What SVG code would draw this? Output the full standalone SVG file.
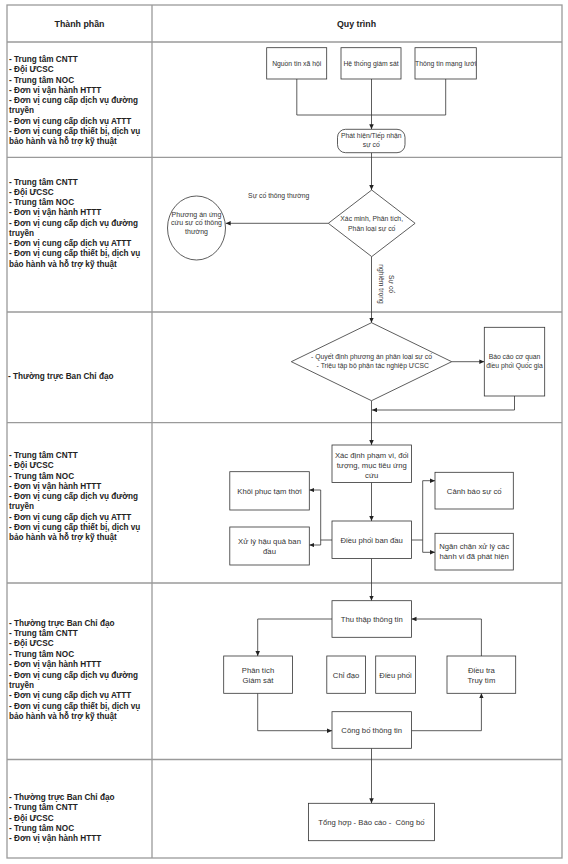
<svg xmlns="http://www.w3.org/2000/svg" width="568" height="864" viewBox="0 0 568 864">
<style>
.grid{fill:none;stroke:#9a9a9a;stroke-width:1.3}
.hd{font-family:"Liberation Sans",Arial,sans-serif;font-weight:bold;font-size:8.8px;fill:#222;text-anchor:middle}
.lt{font-family:"Liberation Sans",Arial,sans-serif;font-weight:bold;font-size:8.2px;fill:#222}
.bx{fill:#fff;stroke:#333;stroke-width:0.8}
.s{font-family:"Liberation Sans",Arial,sans-serif;font-size:6.8px;fill:#333;text-anchor:middle}
.m{font-family:"Liberation Sans",Arial,sans-serif;font-size:7.7px;fill:#333;text-anchor:middle}
.c{fill:none;stroke:#333;stroke-width:0.8}
.a{marker-end:url(#ah)}
</style>
<defs>
<marker id="ah" markerUnits="userSpaceOnUse" markerWidth="5" markerHeight="5" refX="5" refY="2.25" orient="auto">
<path d="M0,0 L5,2.25 L0,4.5 z" fill="#222"/>
</marker>
</defs>
<rect width="568" height="864" fill="#fff"/>
<g id="table">
<rect class="grid" x="7" y="5" width="555" height="853"/>
<line class="grid" x1="152" y1="5" x2="152" y2="858"/>
<line class="grid" x1="7" y1="42" x2="562" y2="42"/>
<line class="grid" x1="7" y1="157.3" x2="562" y2="157.3"/>
<line class="grid" x1="7" y1="312" x2="562" y2="312"/>
<line class="grid" x1="7" y1="422.7" x2="562" y2="422.7"/>
<line class="grid" x1="7" y1="583" x2="562" y2="583"/>
<line class="grid" x1="7" y1="759.5" x2="562" y2="759.5"/>
<text class="hd" x="79.5" y="27">Thành phần</text>
<text class="hd" x="356.5" y="27">Quy trình</text>
</g>
<g id="roles">
<text class="lt" x="9" y="62"><tspan x="9">- Trung tâm CNTT</tspan><tspan x="9" dy="10.25">- Đội ƯCSC</tspan><tspan x="9" dy="10.25">- Trung tâm NOC</tspan><tspan x="9" dy="10.25">- Đơn vị vận hành HTTT</tspan><tspan x="9" dy="10.25">- Đơn vị cung cấp dịch vụ đường</tspan><tspan x="9" dy="10.25">truyền</tspan><tspan x="9" dy="10.25">- Đơn vị cung cấp dịch vụ ATTT</tspan><tspan x="9" dy="10.25">- Đơn vị cung cấp thiết bị, dịch vụ</tspan><tspan x="9" dy="10.25">bảo hành và hỗ trợ kỹ thuật</tspan></text>
<text class="lt" x="9" y="184.5"><tspan x="9">- Trung tâm CNTT</tspan><tspan x="9" dy="10.25">- Đội ƯCSC</tspan><tspan x="9" dy="10.25">- Trung tâm NOC</tspan><tspan x="9" dy="10.25">- Đơn vị vận hành HTTT</tspan><tspan x="9" dy="10.25">- Đơn vị cung cấp dịch vụ đường</tspan><tspan x="9" dy="10.25">truyền</tspan><tspan x="9" dy="10.25">- Đơn vị cung cấp dịch vụ ATTT</tspan><tspan x="9" dy="10.25">- Đơn vị cung cấp thiết bị, dịch vụ</tspan><tspan x="9" dy="10.25">bảo hành và hỗ trợ kỹ thuật</tspan></text>
<text class="lt" x="8" y="379">- Thường trực Ban Chỉ đạo</text>
<text class="lt" x="9" y="458"><tspan x="9">- Trung tâm CNTT</tspan><tspan x="9" dy="10.25">- Đội ƯCSC</tspan><tspan x="9" dy="10.25">- Trung tâm NOC</tspan><tspan x="9" dy="10.25">- Đơn vị vận hành HTTT</tspan><tspan x="9" dy="10.25">- Đơn vị cung cấp dịch vụ đường</tspan><tspan x="9" dy="10.25">truyền</tspan><tspan x="9" dy="10.25">- Đơn vị cung cấp dịch vụ ATTT</tspan><tspan x="9" dy="10.25">- Đơn vị cung cấp thiết bị, dịch vụ</tspan><tspan x="9" dy="10.25">bảo hành và hỗ trợ kỹ thuật</tspan></text>
<text class="lt" x="9" y="625.7"><tspan x="9">- Thường trực Ban Chỉ đạo</tspan><tspan x="9" dy="10.37">- Trung tâm CNTT</tspan><tspan x="9" dy="10.37">- Đội ƯCSC</tspan><tspan x="9" dy="10.37">- Trung tâm NOC</tspan><tspan x="9" dy="10.37">- Đơn vị vận hành HTTT</tspan><tspan x="9" dy="10.37">- Đơn vị cung cấp dịch vụ đường</tspan><tspan x="9" dy="10.37">truyền</tspan><tspan x="9" dy="10.37">- Đơn vị cung cấp dịch vụ ATTT</tspan><tspan x="9" dy="10.37">- Đơn vị cung cấp thiết bị, dịch vụ</tspan><tspan x="9" dy="10.37">bảo hành và hỗ trợ kỹ thuật</tspan></text>
<text class="lt" x="9" y="799.7"><tspan x="9">- Thường trực Ban Chỉ đạo</tspan><tspan x="9" dy="10.4">- Trung tâm CNTT</tspan><tspan x="9" dy="10.4">- Đội ƯCSC</tspan><tspan x="9" dy="10.4">- Trung tâm NOC</tspan><tspan x="9" dy="10.4">- Đơn vị vận hành HTTT</tspan></text>
</g>
<g id="connectors">
<path class="c" d="M296.8,79 V115 H445.7 V79"/>
<path class="c a" d="M371.5,79 V129.3"/>
<path class="c a" d="M371.5,152.7 V190"/>
<path class="c a" d="M328.3,223.3 H225.7"/>
<path class="c a" d="M371.5,256.6 V322.7"/>
<path class="c a" d="M451.7,361.7 H484.3"/>
<path class="c a" d="M514.5,396 V410 H372"/>
<path class="c a" d="M371.5,400.7 V445"/>
<path class="c a" d="M371.5,482.5 V521"/>
<path class="c a" d="M332,540 H320.7 V490 H309.3"/>
<path class="c a" d="M320.7,540 V545 H309.3"/>
<path class="c a" d="M411.5,540 H422.7 V480.7 H435"/>
<path class="c a" d="M422.7,540 V552.3 H435"/>
<path class="c a" d="M371.5,558.5 V600.7"/>
<path class="c a" d="M332,619 H257.7 V656"/>
<path class="c a" d="M257.7,693.3 V730.7 H332"/>
<path class="c a" d="M411.5,730.7 H481.4 V693.3"/>
<path class="c a" d="M481.4,656 V619 H411.5"/>
<path class="c a" d="M371.5,748.3 V803.3"/>
<text class="s" x="278.7" y="198">Sự cố thông thường</text>
<g transform="translate(386,284) rotate(90)"><text class="s" x="0" y="-3">Sự cố</text><text class="s" x="0" y="7">nghiêm trọng</text></g>
</g>
<g id="n-nguon"><rect class="bx" x="266.7" y="47.7" width="60" height="31.3"/><text class="s" x="296.7" y="65.8">Nguồn tin xã hội</text></g>
<g id="n-giamsat"><rect class="bx" x="341" y="47.7" width="60" height="31.3"/><text class="s" x="371" y="65.8">Hệ thống giám sát</text></g>
<g id="n-mangluoi"><rect class="bx" x="415" y="47.7" width="61.3" height="31.3"/><text class="s" x="445.7" y="65.8">Thông tin mạng lưới</text></g>
<g id="n-phathien"><rect class="bx" x="337.5" y="129.3" width="67.5" height="23.4" rx="8"/><text class="s" x="371.3" y="137.6">Phát hiện/Tiếp nhận</text><text class="s" x="371.3" y="147.4">sự cố</text></g>
<g id="n-xacminh"><polygon class="bx" points="371.7,190 415.1,223.3 371.7,256.6 328.3,223.3"/><text class="s" x="371.7" y="220.6">Xác minh, Phân tích,</text><text class="s" x="371.7" y="230.6">Phân loại sự cố</text></g>
<g id="n-phuongan"><ellipse class="bx" cx="196.5" cy="228" rx="29" ry="32"/><text class="s" style="font-size:7px" x="196.5" y="216.5">Phương án ứng</text><text class="s" style="font-size:7px" x="196.5" y="225.3">cứu sự cố thông</text><text class="s" style="font-size:7px" x="196.5" y="234.2">thường</text></g>
<g id="n-quyetdinh"><polygon class="bx" points="371.5,322.7 451.7,361.7 371.5,400.7 291.3,361.7"/><text class="s" x="371.5" y="359">- Quyết định phương án phân loại sự cố</text><text class="s" x="372.8" y="368.4">- Triệu tập bộ phận tác nghiệp ƯCSC</text></g>
<g id="n-baocao"><rect class="bx" x="484.3" y="327.3" width="60.4" height="68.7"/><text class="s" x="514.5" y="359">Báo cáo cơ quan</text><text class="s" x="514.5" y="368.4">điều phối Quốc gia</text></g>
<g id="n-xacdinh"><rect class="bx" x="332" y="445" width="79.5" height="37.5"/><text class="m" x="371.7" y="457.5">Xác định phạm vi, đối</text><text class="m" x="371.7" y="467.8">tượng, mục tiêu ứng</text><text class="m" x="371.7" y="478.1">cứu</text></g>
<g id="n-dieuphoibandau"><rect class="bx" x="332" y="521" width="79.5" height="37.5"/><text class="m" x="371.7" y="542.6">Điều phối ban đầu</text></g>
<g id="n-khoiphuc"><rect class="bx" x="229.8" y="471.7" width="79.5" height="38.3"/><text class="m" x="269.5" y="493.6">Khôi phục tạm thời</text></g>
<g id="n-xuly"><rect class="bx" x="229.8" y="527" width="79.5" height="38"/><text class="m" x="269.5" y="543.6">Xử lý hậu quả ban</text><text class="m" x="269.5" y="554">đầu</text></g>
<g id="n-canhbao"><rect class="bx" x="435" y="472.3" width="78.3" height="36.7"/><text class="m" x="474.2" y="493.6">Cảnh báo sự cố</text></g>
<g id="n-nganchan"><rect class="bx" x="435" y="533.3" width="78.3" height="36.7"/><text class="m" x="474.2" y="549.3">Ngăn chặn xử lý các</text><text class="m" x="474.2" y="559.3">hành vi đã phát hiện</text></g>
<g id="n-thuthap"><rect class="bx" x="332" y="600.7" width="79.5" height="36.6"/><text class="m" x="371.7" y="621.8">Thu thập thông tin</text></g>
<g id="n-phantich"><rect class="bx" x="223.7" y="656" width="68.7" height="37.3"/><text class="m" x="258" y="672.6">Phân tích</text><text class="m" x="258" y="683.4">Giám sát</text></g>
<g id="n-chidao"><rect class="bx" x="326.8" y="656" width="38.7" height="37.3"/><text class="m" x="346.1" y="677.5">Chỉ đạo</text></g>
<g id="n-dieuphoi"><rect class="bx" x="375.7" y="656" width="39.8" height="37.3"/><text class="m" x="395.6" y="677.5">Điều phối</text></g>
<g id="n-dieutra"><rect class="bx" x="447" y="656" width="68.7" height="37.3"/><text class="m" x="481.4" y="672.6">Điều tra</text><text class="m" x="481.4" y="683.4">Truy tìm</text></g>
<g id="n-congbo"><rect class="bx" x="332" y="711.7" width="79.5" height="36.6"/><text class="m" x="371.7" y="733">Công bố thông tin</text></g>
<g id="n-tonghop"><rect class="bx" x="308.4" y="803.3" width="126" height="37.4"/><text class="m" x="371.4" y="824.6" style="white-space:pre">Tổng hợp - Báo cáo -  Công bố</text></g>
</svg>
